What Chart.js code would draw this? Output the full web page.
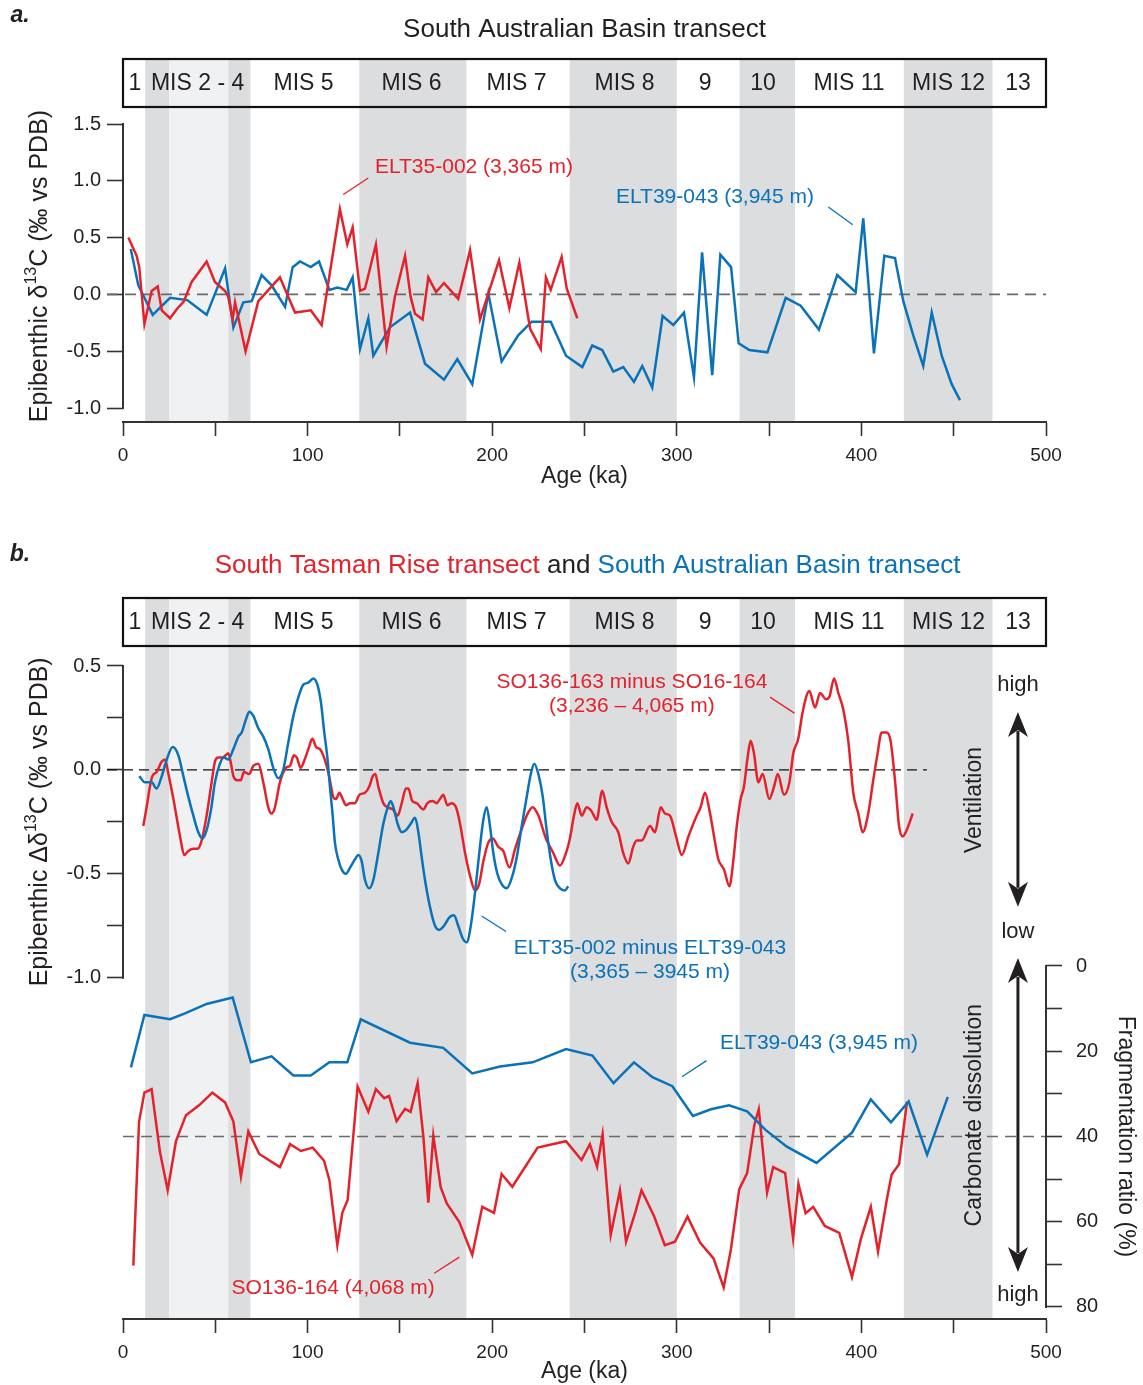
<!DOCTYPE html>
<html><head><meta charset="utf-8">
<script src="https://cdn.jsdelivr.net/npm/chart.js@4.4.1/dist/chart.umd.min.js"></script>
<style>
html,body{margin:0;padding:0;background:#fff;}
#wrap{position:relative;width:1143px;height:1385px;background:#fff;}
#ca{position:absolute;left:0;top:0;width:1143px;height:500px;}
#cb{position:absolute;left:0;top:520px;width:1143px;height:865px;}
</style></head><body>
<div id="wrap">
<canvas id="ca" width="1143" height="500"></canvas>
<canvas id="cb" width="1143" height="865"></canvas>
</div>
<script>
// ---------------- DATA ----------------
// Marine isotope stage bands (ka)
const bandStart = [12, 25, 57, 128, 242, 334, 423];
const bandEnd   = [25, 57, 69, 186, 300, 364, 471];
const bandTone  = ['dark','light','dark','dark','dark','dark','dark'];
const misLabels   = ['1','MIS 2 - 4','MIS 5','MIS 6','MIS 7','MIS 8','9','10','MIS 11','MIS 12','13'];
const misLabelAge = [6.5, 40.4, 97.8, 156.3, 213.2, 271.7, 315.3, 346.7, 393.3, 447.2, 484.8];

// Tick values
const xTickStep = 50;
const aYTicks = [-1.0, -0.5, 0.0, 0.5, 1.0, 1.5];
const bYTicks = [-1.0, -0.75, -0.5, -0.25, 0.0, 0.25, 0.5];
const fragTicks = [0, 10, 20, 30, 40, 50, 60, 70, 80];

// Panel a: epibenthic d13C, [age ka, permil]
const elt35_d13C = [[2.9,0.50],[7.4,0.34],[8.8,0.24],[11.6,-0.26],[15.5,0.03],[18.8,0.07],[21.0,-0.14],[25.5,-0.21],[29.1,-0.13],[33.0,-0.06],[37.2,0.11],[45.3,0.29],[49.8,0.11],[55.3,0.03],[57.0,-0.02],[59.4,-0.22],[60.7,-0.07],[66.4,-0.50],[73.3,-0.06],[85.0,0.15],[93.2,-0.16],[101.7,-0.14],[107.6,-0.27],[117.5,0.75],[121.5,0.44],[124.4,0.59],[128.4,0.03],[131.1,0.05],[137.0,0.44],[142.8,-0.46],[147.3,-0.02],[152.8,0.34],[155.8,-0.02],[158.2,-0.17],[162.3,-0.22],[165.4,0.15],[169.6,0.02],[173.9,0.10],[181.6,-0.04],[188.0,0.39],[193.4,-0.22],[203.7,0.30],[209.3,-0.12],[214.7,0.28],[220.5,-0.30],[226.3,-0.48],[229.1,0.15],[231.7,0.04],[237.6,0.33],[240.4,0.05],[246.1,-0.21]];
const elt39_d13C = [[4.2,0.40],[8.3,0.08],[16.1,-0.18],[25.5,-0.03],[34.8,-0.05],[45.3,-0.18],[55.3,0.23],[59.8,-0.29],[65.2,-0.07],[69.7,-0.06],[75.1,0.17],[80.5,0.08],[87.8,-0.11],[91.9,0.24],[95.9,0.29],[101.7,0.24],[106.2,0.29],[111.8,0.04],[116.1,0.06],[121.2,0.04],[124.4,0.15],[128.4,-0.48],[132.9,-0.21],[135.6,-0.54],[144.6,-0.29],[155.5,-0.16],[163.6,-0.61],[173.9,-0.75],[181.1,-0.57],[189.2,-0.79],[197.9,0.01],[205.1,-0.59],[214.1,-0.36],[221.4,-0.24],[231.7,-0.24],[240.0,-0.54],[248.8,-0.64],[254.2,-0.45],[259.6,-0.49],[265.6,-0.68],[271.0,-0.64],[276.8,-0.77],[281.3,-0.63],[286.7,-0.82],[292.3,-0.19],[298.1,-0.27],[303.9,-0.16],[309.3,-0.73],[313.7,0.37],[319.2,-0.71],[323.6,0.35],[329.4,0.24],[333.5,-0.43],[339.3,-0.49],[349.1,-0.51],[359.0,-0.03],[367.1,-0.10],[377.0,-0.31],[386.9,0.17],[396.9,0.02],[401.0,0.67],[406.8,-0.52],[412.4,0.34],[418.2,0.32],[422.7,-0.06],[428.1,-0.36],[433.5,-0.63],[438.1,-0.16],[443.5,-0.54],[448.9,-0.79],[453.4,-0.93]];

// Panel b (top): gradients, [age ka, permil]
const so163_minus_164 = [[11.0,-0.27],[12.8,-0.18],[14.6,-0.08],[15.9,-0.03],[18.2,-0.01],[21.0,0.04],[22.8,0.05],[24.6,-0.02],[27.3,-0.14],[30.9,-0.32],[33.2,-0.41],[35.4,-0.39],[38.1,-0.38],[40.3,-0.38],[42.6,-0.34],[45.3,-0.22],[48.0,-0.06],[49.8,0.04],[51.6,0.06],[54.0,0.06],[57.0,0.08],[58.5,0.03],[59.8,-0.03],[61.9,-0.05],[63.8,-0.05],[65.5,-0.01],[68.3,-0.02],[70.6,0.02],[73.3,0.03],[76.0,-0.06],[78.7,-0.18],[80.5,-0.21],[82.3,-0.18],[85.0,-0.06],[88.3,0.01],[90.5,0.02],[92.6,0.07],[94.1,0.06],[96.3,0.01],[98.0,0.04],[100.4,0.10],[102.6,0.15],[104.6,0.11],[106.7,0.10],[108.5,0.07],[110.3,0.02],[112.1,-0.05],[113.9,-0.13],[115.4,-0.14],[117.2,-0.11],[119.0,-0.14],[120.8,-0.17],[123.0,-0.16],[125.7,-0.16],[128.0,-0.12],[131.1,-0.11],[133.4,-0.08],[135.3,-0.03],[136.7,-0.02],[138.3,-0.08],[141.0,-0.16],[143.2,-0.18],[146.1,-0.19],[148.8,-0.22],[151.0,-0.16],[153.3,-0.09],[154.6,-0.09],[156.7,-0.15],[159.1,-0.16],[162.7,-0.19],[164.9,-0.16],[167.6,-0.15],[169.9,-0.16],[171.7,-0.14],[173.5,-0.12],[175.7,-0.17],[178.0,-0.16],[180.4,-0.18],[182.6,-0.26],[185.3,-0.40],[188.0,-0.51],[190.7,-0.58],[192.9,-0.55],[195.2,-0.44],[197.9,-0.35],[200.3,-0.33],[203.3,-0.37],[206.0,-0.39],[209.3,-0.47],[212.4,-0.38],[215.4,-0.30],[218.7,-0.22],[221.9,-0.18],[225.0,-0.22],[229.1,-0.33],[233.1,-0.40],[236.7,-0.46],[240.0,-0.40],[242.1,-0.33],[244.3,-0.22],[246.1,-0.16],[248.5,-0.22],[251.2,-0.18],[253.9,-0.20],[256.6,-0.24],[259.6,-0.10],[262.0,-0.18],[264.7,-0.25],[268.3,-0.30],[271.0,-0.40],[273.7,-0.45],[276.4,-0.37],[278.3,-0.34],[281.0,-0.34],[285.5,-0.27],[288.2,-0.30],[291.3,-0.18],[293.6,-0.21],[296.3,-0.22],[299.6,-0.32],[302.7,-0.41],[306.3,-0.32],[310.8,-0.22],[312.9,-0.18],[315.3,-0.11],[317.6,-0.19],[319.8,-0.30],[322.5,-0.43],[325.6,-0.48],[328.5,-0.56],[330.7,-0.43],[332.5,-0.27],[334.6,-0.14],[336.4,-0.08],[338.2,0.05],[340.0,0.14],[341.8,0.08],[344.2,-0.06],[346.5,-0.02],[350.1,-0.14],[352.7,-0.08],[354.7,-0.02],[358.1,-0.12],[361.0,-0.06],[363.1,0.08],[365.8,0.15],[368.2,0.28],[371.8,0.38],[374.9,0.30],[377.6,0.37],[380.8,0.34],[382.6,0.35],[385.2,0.44],[387.5,0.37],[390.2,0.29],[392.9,0.14],[395.6,-0.11],[398.3,-0.21],[400.7,-0.30],[403.7,-0.21],[406.4,-0.05],[408.6,0.07],[411.0,0.18],[413.7,0.18],[415.8,0.14],[418.2,-0.05],[420.4,-0.27],[422.4,-0.32],[424.5,-0.29],[427.8,-0.21]];
const elt35_minus_39 = [[8.8,-0.03],[11.9,-0.06],[15.5,-0.06],[18.2,-0.09],[21.0,-0.03],[23.7,0.05],[26.9,0.11],[30.0,0.07],[32.7,-0.03],[35.4,-0.13],[38.1,-0.22],[40.8,-0.30],[43.0,-0.33],[45.3,-0.29],[47.7,-0.19],[49.8,-0.06],[52.5,0.03],[54.7,0.06],[57.0,0.05],[59.8,0.10],[62.5,0.16],[64.3,0.18],[66.5,0.24],[68.4,0.28],[70.6,0.26],[73.3,0.20],[76.0,0.16],[78.7,0.10],[81.4,0.01],[84.1,-0.04],[86.8,0.00],[89.5,0.13],[92.3,0.26],[95.0,0.35],[97.7,0.41],[100.4,0.42],[103.1,0.44],[105.3,0.41],[107.3,0.32],[108.9,0.19],[110.7,0.06],[112.1,-0.08],[113.6,-0.22],[114.8,-0.35],[116.6,-0.43],[118.5,-0.48],[120.8,-0.50],[123.0,-0.47],[125.7,-0.43],[127.5,-0.41],[129.3,-0.44],[131.1,-0.53],[133.4,-0.57],[135.6,-0.53],[138.3,-0.40],[141.0,-0.26],[143.4,-0.18],[145.0,-0.15],[146.8,-0.19],[148.8,-0.26],[151.0,-0.30],[153.3,-0.29],[155.8,-0.26],[158.2,-0.23],[160.0,-0.30],[161.8,-0.42],[163.6,-0.53],[166.3,-0.66],[169.0,-0.75],[171.4,-0.77],[173.9,-0.75],[176.8,-0.71],[179.3,-0.70],[181.6,-0.75],[184.0,-0.81],[186.2,-0.83],[188.4,-0.75],[190.7,-0.59],[193.0,-0.40],[195.2,-0.24],[197.0,-0.18],[198.8,-0.27],[200.6,-0.40],[202.8,-0.50],[205.1,-0.55],[207.9,-0.57],[210.6,-0.52],[213.3,-0.42],[216.0,-0.27],[218.7,-0.13],[220.9,-0.02],[222.8,0.03],[225.0,-0.02],[227.4,-0.13],[229.5,-0.29],[231.7,-0.43],[234.0,-0.53],[236.7,-0.57],[239.4,-0.58],[241.2,-0.56]];

// Panel b (bottom): fragmentation ratio, [age ka, %]
const elt39_frag = [[4.3,23.8],[11.6,11.5],[25.5,12.5],[33.6,11.1],[45.3,8.9],[59.4,7.4],[69.3,22.6],[80.5,21.2],[92.3,25.7],[101.7,25.7],[111.8,22.6],[121.5,22.6],[128.8,12.5],[155.5,18.0],[173.5,19.2],[189.2,25.2],[204.2,23.6],[221.9,22.6],[240.0,19.5],[254.3,21.0],[265.7,27.5],[276.8,22.6],[286.8,26.1],[297.6,28.2],[308.7,35.2],[318.5,33.6],[328.3,32.7],[338.1,34.1],[347.9,38.4],[359.6,42.4],[375.7,46.2],[394.9,39.1],[405.1,31.3],[416.0,36.7],[425.6,31.8],[435.6,44.3],[446.8,30.7]];
const so164_frag = [[5.6,70.3],[8.7,36.5],[11.6,29.7],[15.5,28.9],[20.0,43.6],[24.2,52.6],[28.7,41.1],[34.1,35.0],[41.2,32.7],[48.4,29.7],[55.3,32.0],[59.8,36.5],[63.9,49.4],[67.9,38.8],[73.8,44.1],[85.0,47.2],[90.5,41.8],[96.4,43.4],[102.8,42.6],[108.9,45.7],[111.8,50.2],[116.1,65.5],[118.8,57.9],[121.7,54.9],[127.1,28.3],[132.9,34.2],[137.0,28.9],[141.5,31.0],[144.1,30.5],[148.2,36.4],[152.8,33.5],[155.8,34.2],[159.6,27.5],[162.7,40.0],[165.4,55.5],[168.1,39.8],[172.1,51.9],[175.4,55.7],[182.2,60.1],[189.2,67.8],[194.6,56.5],[201.0,57.9],[205.1,48.8],[210.9,51.8],[224.6,42.6],[240.0,41.1],[248.4,45.5],[252.9,41.8],[256.8,47.1],[259.8,39.5],[264.2,63.1],[269.2,52.6],[272.5,64.7],[277.4,58.0],[280.9,52.6],[287.6,58.6],[293.5,65.5],[299.0,64.7],[305.8,58.8],[312.6,64.9],[319.9,68.6],[325.4,75.4],[329.3,66.5],[333.8,52.4],[338.1,48.6],[342.0,37.3],[344.4,33.6],[348.9,53.2],[352.2,47.2],[358.7,48.6],[363.0,63.9],[365.9,51.1],[369.8,58.0],[373.9,56.5],[380.2,61.0],[388.0,62.6],[394.9,73.0],[399.8,63.9],[405.1,56.5],[409.0,67.0],[413.9,54.5],[416.4,48.9],[420.4,46.5],[424.7,31.8]];

// ---------------- STYLE ----------------
const FONT = "'Liberation Sans', Arial, Helvetica, sans-serif";
const RED = '#e4222b', BLUE = '#0a72b8', INK = '#231f20', AX = '#333333';
const BAND_DARK = '#dcdddf', BAND_LIGHT = '#f0f1f3';
const HEADER_H = 50;
Chart.defaults.font.family = FONT;
Chart.defaults.color = INK;

const toXY = arr => arr.map(p => ({x: p[0], y: p[1]}));

function txt(ctx, s, x, y, size, color, align, rot, weight, style){
  ctx.save(); ctx.translate(x, y); ctx.rotate(rot || 0);
  ctx.font = `${style||''} ${weight||''} ${size}px ${FONT}`;
  ctx.fillStyle = color; ctx.textAlign = align || 'center'; ctx.textBaseline = 'middle';
  ctx.fillText(s, 0, 0); ctx.restore();
}
function seg(ctx, x1, y1, x2, y2, color, w, dash){
  ctx.save(); ctx.strokeStyle = color; ctx.lineWidth = w; ctx.setLineDash(dash || []);
  ctx.beginPath(); ctx.moveTo(x1, y1); ctx.lineTo(x2, y2); ctx.stroke(); ctx.restore();
}
function supTitle(ctx, pre, sup, post, cx, cy, size){
  ctx.save(); ctx.translate(cx, cy); ctx.rotate(-Math.PI/2);
  const f = `${size}px ${FONT}`, fs = `${Math.round(size*0.62)}px ${FONT}`;
  ctx.font = f; const w1 = ctx.measureText(pre).width, w3 = ctx.measureText(post).width;
  ctx.font = fs; const w2 = ctx.measureText(sup).width;
  let x = -(w1 + w2 + w3)/2;
  ctx.fillStyle = INK; ctx.textBaseline = 'middle'; ctx.textAlign = 'left';
  ctx.font = f; ctx.fillText(pre, x, 0); x += w1;
  ctx.font = fs; ctx.fillText(sup, x, -size*0.32); x += w2;
  ctx.font = f; ctx.fillText(post, x, 0);
  ctx.restore();
}
function dblArrow(ctx, x, y1, y2){
  const hl = 25, hw = 10;
  ctx.save(); ctx.strokeStyle = INK; ctx.fillStyle = INK; ctx.lineWidth = 3;
  ctx.beginPath(); ctx.moveTo(x, y1 + hl - 6); ctx.lineTo(x, y2 - hl + 6); ctx.stroke();
  ctx.beginPath(); ctx.moveTo(x, y1); ctx.lineTo(x - hw, y1 + hl); ctx.lineTo(x, y1 + hl - 7); ctx.lineTo(x + hw, y1 + hl); ctx.closePath(); ctx.fill();
  ctx.beginPath(); ctx.moveTo(x, y2); ctx.lineTo(x - hw, y2 - hl); ctx.lineTo(x, y2 - hl + 7); ctx.lineTo(x + hw, y2 - hl); ctx.closePath(); ctx.fill();
  ctx.restore();
}
function drawBands(chart){
  const {ctx, chartArea: ca, scales: {x}} = chart;
  ctx.save();
  for (let i = 0; i < bandStart.length; i++){
    const x1 = x.getPixelForValue(bandStart[i]), x2 = x.getPixelForValue(bandEnd[i]);
    ctx.fillStyle = bandTone[i] === 'dark' ? BAND_DARK : BAND_LIGHT;
    ctx.fillRect(x1, ca.top, x2 - x1, ca.bottom - ca.top);
  }
  ctx.restore();
}
function drawHeader(chart){
  const {ctx, chartArea: ca, scales: {x}} = chart;
  ctx.save(); ctx.strokeStyle = '#111'; ctx.lineWidth = 2.2;
  ctx.strokeRect(ca.left, ca.top + 1, ca.right - ca.left, HEADER_H - 2);
  ctx.restore();
  misLabels.forEach((s, i) => txt(ctx, s, x.getPixelForValue(misLabelAge[i]), ca.top + HEADER_H/2 + 1, 23, INK));
}
function xAxis(h, titleLH){
  return {
    type: 'linear', min: 0, max: 500,
    ticks: {stepSize: xTickStep, autoSkip: false, maxRotation: 0, padding: 8, font: {size: 19}, color: INK,
            callback: v => (v % 100 === 0 ? String(v) : '')},
    grid: {drawOnChartArea: false, drawTicks: true, tickLength: 14, tickColor: AX, tickWidth: 1.6},
    border: {display: true, color: AX, width: 2},
    title: {display: true, text: 'Age (ka)', font: {size: 23, lineHeight: titleLH}, padding: 0, color: INK},
    afterFit: s => { s.height = h; }
  };
}

// ---------------- PANEL A ----------------
const panelA = {
  id: 'panelA',
  beforeDraw(chart){ drawBands(chart); },
  beforeDatasetsDraw(chart){
    drawHeader(chart);
    const {ctx, chartArea: ca, scales: {y}} = chart;
    const y0 = y.getPixelForValue(0);
    seg(ctx, ca.left - 16, y0, ca.right, y0, '#6a6a6a', 1.6, [11, 7]);
  },
  afterDraw(chart){
    const {ctx, chartArea: ca, scales: {x, y}} = chart;
    const yt = y.getPixelForValue(aYTicks[aYTicks.length-1]), yb = y.getPixelForValue(aYTicks[0]);
    seg(ctx, ca.left, yt - 1, ca.left, yb + 1, AX, 2);
    txt(ctx, 'a.', 20, 16, 23, INK, 'center', 0, 'bold', 'italic');
    txt(ctx, 'South Australian Basin transect', (ca.left + ca.right)/2, 30, 26, INK);
    supTitle(ctx, 'Epibenthic δ', '13', 'C (‰ vs PDB)', 40, (yt + yb)/2, 25);
    // series labels
    txt(ctx, 'ELT35-002 (3,365 m)', x.getPixelForValue(190.1), y.getPixelForValue(1.124), 21, RED);
    seg(ctx, x.getPixelForValue(119.3), y.getPixelForValue(0.88), x.getPixelForValue(132.9), y.getPixelForValue(1.025), RED, 1.3);
    txt(ctx, 'ELT39-043 (3,945 m)', x.getPixelForValue(320.7), y.getPixelForValue(0.86), 21, BLUE);
    seg(ctx, x.getPixelForValue(382.1), y.getPixelForValue(0.769), x.getPixelForValue(395.3), y.getPixelForValue(0.614), BLUE, 1.3);
  }
};

new Chart(document.getElementById('ca'), {
  type: 'line',
  data: {datasets: [
    {label: 'ELT35-002 (3,365 m)', data: toXY(elt35_d13C), borderColor: RED, borderWidth: 2.5, pointRadius: 0, tension: 0, fill: false},
    {label: 'ELT39-043 (3,945 m)', data: toXY(elt39_d13C), borderColor: BLUE, borderWidth: 2.5, pointRadius: 0, tension: 0, fill: false}
  ]},
  options: {
    responsive: false, animation: false, events: [],
    layout: {padding: {left: 0, right: 97, top: 58, bottom: 10}},
    plugins: {legend: {display: false}, tooltip: {enabled: false}},
    scales: {
      x: xAxis(68, 1.2),
      y: {
        type: 'linear', min: -1.1232, max: 2.081, bounds: 'data',
        afterBuildTicks: s => { s.ticks = aYTicks.map(v => ({value: v})); },
        ticks: {autoSkip: false, padding: 6, font: {size: 20}, color: INK, callback: v => Number(v).toFixed(1)},
        grid: {drawOnChartArea: false, drawTicks: true, tickLength: 16, tickColor: AX, tickWidth: 1.6},
        border: {display: false},
        afterFit: s => { s.width = 123; }
      }
    }
  },
  plugins: [panelA]
});

// ---------------- PANEL B ----------------
const panelB = {
  id: 'panelB',
  beforeDraw(chart){ drawBands(chart); },
  beforeDatasetsDraw(chart){
    drawHeader(chart);
    const {ctx, chartArea: ca, scales: {x, y, y2}} = chart;
    const y0 = y.getPixelForValue(0);
    seg(ctx, ca.left - 16, y0, x.getPixelForValue(435.5), y0, '#111', 1.3, [10, 6]);
    const y40 = y2.getPixelForValue(40);
    seg(ctx, ca.left, y40, ca.right, y40, '#6a6a6a', 1.5, [11, 7]);
  },
  afterDraw(chart){
    const {ctx, chartArea: ca, scales: {x, y, y2}} = chart;
    const yt = y.getPixelForValue(0.5), yb = y.getPixelForValue(-1.0);
    seg(ctx, ca.left, yt - 1, ca.left, yb + 1, AX, 2);
    const ft = y2.getPixelForValue(0), fb = y2.getPixelForValue(80);
    seg(ctx, ca.right, ft - 1, ca.right, fb + 1, AX, 2);
    txt(ctx, 'b.', 20, 35, 23, INK, 'center', 0, 'bold', 'italic');
    // coloured title
    ctx.save(); ctx.font = `26px ${FONT}`;
    const p1 = 'South Tasman Rise transect', p2 = ' and ', p3 = 'South Australian Basin transect';
    const w1 = ctx.measureText(p1).width, w2 = ctx.measureText(p2).width, w3 = ctx.measureText(p3).width;
    let tx = (ca.left + ca.right)/2 + 3 - (w1 + w2 + w3)/2;
    ctx.restore();
    txt(ctx, p1, tx, 46, 26, RED, 'left'); tx += w1;
    txt(ctx, p2, tx, 46, 26, INK, 'left'); tx += w2;
    txt(ctx, p3, tx, 46, 26, BLUE, 'left');
    // axis titles
    supTitle(ctx, 'Epibenthic Δδ', '13', 'C (‰ vs PDB)', 40, (yt + yb)/2, 25);
    txt(ctx, 'Fragmentation ratio (%)', 1125, (ft + fb)/2, 23, INK, 'center', Math.PI/2);
    // right-side annotations
    const xa = x.getPixelForValue(484.8), xr = x.getPixelForValue(461.5);
    txt(ctx, 'high', xa, y.getPixelForValue(0.409), 22, INK);
    txt(ctx, 'low', xa, y.getPixelForValue(-0.78), 22, INK);
    txt(ctx, 'high', xa, y2.getPixelForValue(77.2), 22, INK);
    dblArrow(ctx, xa, y.getPixelForValue(0.279), y.getPixelForValue(-0.659));
    dblArrow(ctx, xa, y2.getPixelForValue(-1.9), y2.getPixelForValue(71.8));
    txt(ctx, 'Ventilation', xr, y.getPixelForValue(-0.145), 23, INK, 'center', -Math.PI/2);
    txt(ctx, 'Carbonate dissolution', xr, y2.getPixelForValue(35), 23, INK, 'center', -Math.PI/2);
    // series labels
    txt(ctx, 'SO136-163 minus SO16-164', x.getPixelForValue(275.7), y.getPixelForValue(0.4235), 21, RED);
    txt(ctx, '(3,236 – 4,065 m)', x.getPixelForValue(275.7), y.getPixelForValue(0.308), 21, RED);
    seg(ctx, x.getPixelForValue(350.5), y.getPixelForValue(0.35), x.getPixelForValue(363.7), y.getPixelForValue(0.273), RED, 1.3);
    txt(ctx, 'ELT35-002 minus ELT39-043', x.getPixelForValue(285.5), y.getPixelForValue(-0.857), 21, BLUE);
    txt(ctx, '(3,365 – 3945 m)', x.getPixelForValue(285.5), y.getPixelForValue(-0.972), 21, BLUE);
    seg(ctx, x.getPixelForValue(194.3), y.getPixelForValue(-0.703), x.getPixelForValue(207.5), y.getPixelForValue(-0.778), BLUE, 1.3);
    txt(ctx, 'ELT39-043 (3,945 m)', x.getPixelForValue(377), y2.getPixelForValue(18.06), 21, BLUE);
    seg(ctx, x.getPixelForValue(302.8), y2.getPixelForValue(26.0), x.getPixelForValue(316.1), y2.getPixelForValue(22.2), BLUE, 1.3);
    txt(ctx, 'SO136-164 (4,068 m)', x.getPixelForValue(113.8), y2.getPixelForValue(75.5), 21, RED);
    seg(ctx, x.getPixelForValue(168.6), y2.getPixelForValue(72.1), x.getPixelForValue(182.2), y2.getPixelForValue(68.3), RED, 1.3);
  }
};

new Chart(document.getElementById('cb'), {
  type: 'line',
  data: {datasets: [
    {label: 'ELT35-002 minus ELT39-043', data: toXY(elt35_minus_39), yAxisID: 'y', borderColor: BLUE, borderWidth: 2.5, pointRadius: 0, cubicInterpolationMode: 'monotone', fill: false},
    {label: 'SO136-163 minus SO16-164', data: toXY(so163_minus_164), yAxisID: 'y', borderColor: RED, borderWidth: 2.5, pointRadius: 0, cubicInterpolationMode: 'monotone', fill: false},
    {label: 'ELT39-043 fragmentation', data: toXY(elt39_frag), yAxisID: 'y2', borderColor: BLUE, borderWidth: 2.5, pointRadius: 0, tension: 0, fill: false},
    {label: 'SO136-164 fragmentation', data: toXY(so164_frag), yAxisID: 'y2', borderColor: RED, borderWidth: 2.5, pointRadius: 0, tension: 0, fill: false}
  ]},
  options: {
    responsive: false, animation: false, events: [],
    layout: {padding: {left: 0, right: 0, top: 77, bottom: 2}},
    plugins: {legend: {display: false}, tooltip: {enabled: false}},
    scales: {
      x: xAxis(64, 1.0),
      y: {
        type: 'linear', position: 'left', min: -2.6425, max: 0.832, bounds: 'data',
        afterBuildTicks: s => { s.ticks = bYTicks.map(v => ({value: v})); },
        ticks: {autoSkip: false, padding: 6, font: {size: 20}, color: INK,
                callback: v => (Math.abs(v*2 - Math.round(v*2)) < 1e-6 ? Number(v).toFixed(1) : '')},
        grid: {drawOnChartArea: false, drawTicks: true, tickLength: 16, tickColor: AX, tickWidth: 1.6},
        border: {display: false},
        afterFit: s => { s.width = 123; }
      },
      y2: {
        type: 'linear', position: 'right', reverse: true, min: -86.57, max: 82.82, bounds: 'data',
        afterBuildTicks: s => { s.ticks = fragTicks.map(v => ({value: v})); },
        ticks: {autoSkip: false, padding: 14, font: {size: 20}, color: INK,
                callback: v => (v % 20 === 0 ? String(v) : '')},
        grid: {drawOnChartArea: false, drawTicks: true, tickLength: 16, tickColor: AX, tickWidth: 1.6},
        border: {display: false},
        afterFit: s => { s.width = 97; }
      }
    }
  },
  plugins: [panelB]
});
</script>
</body></html>
